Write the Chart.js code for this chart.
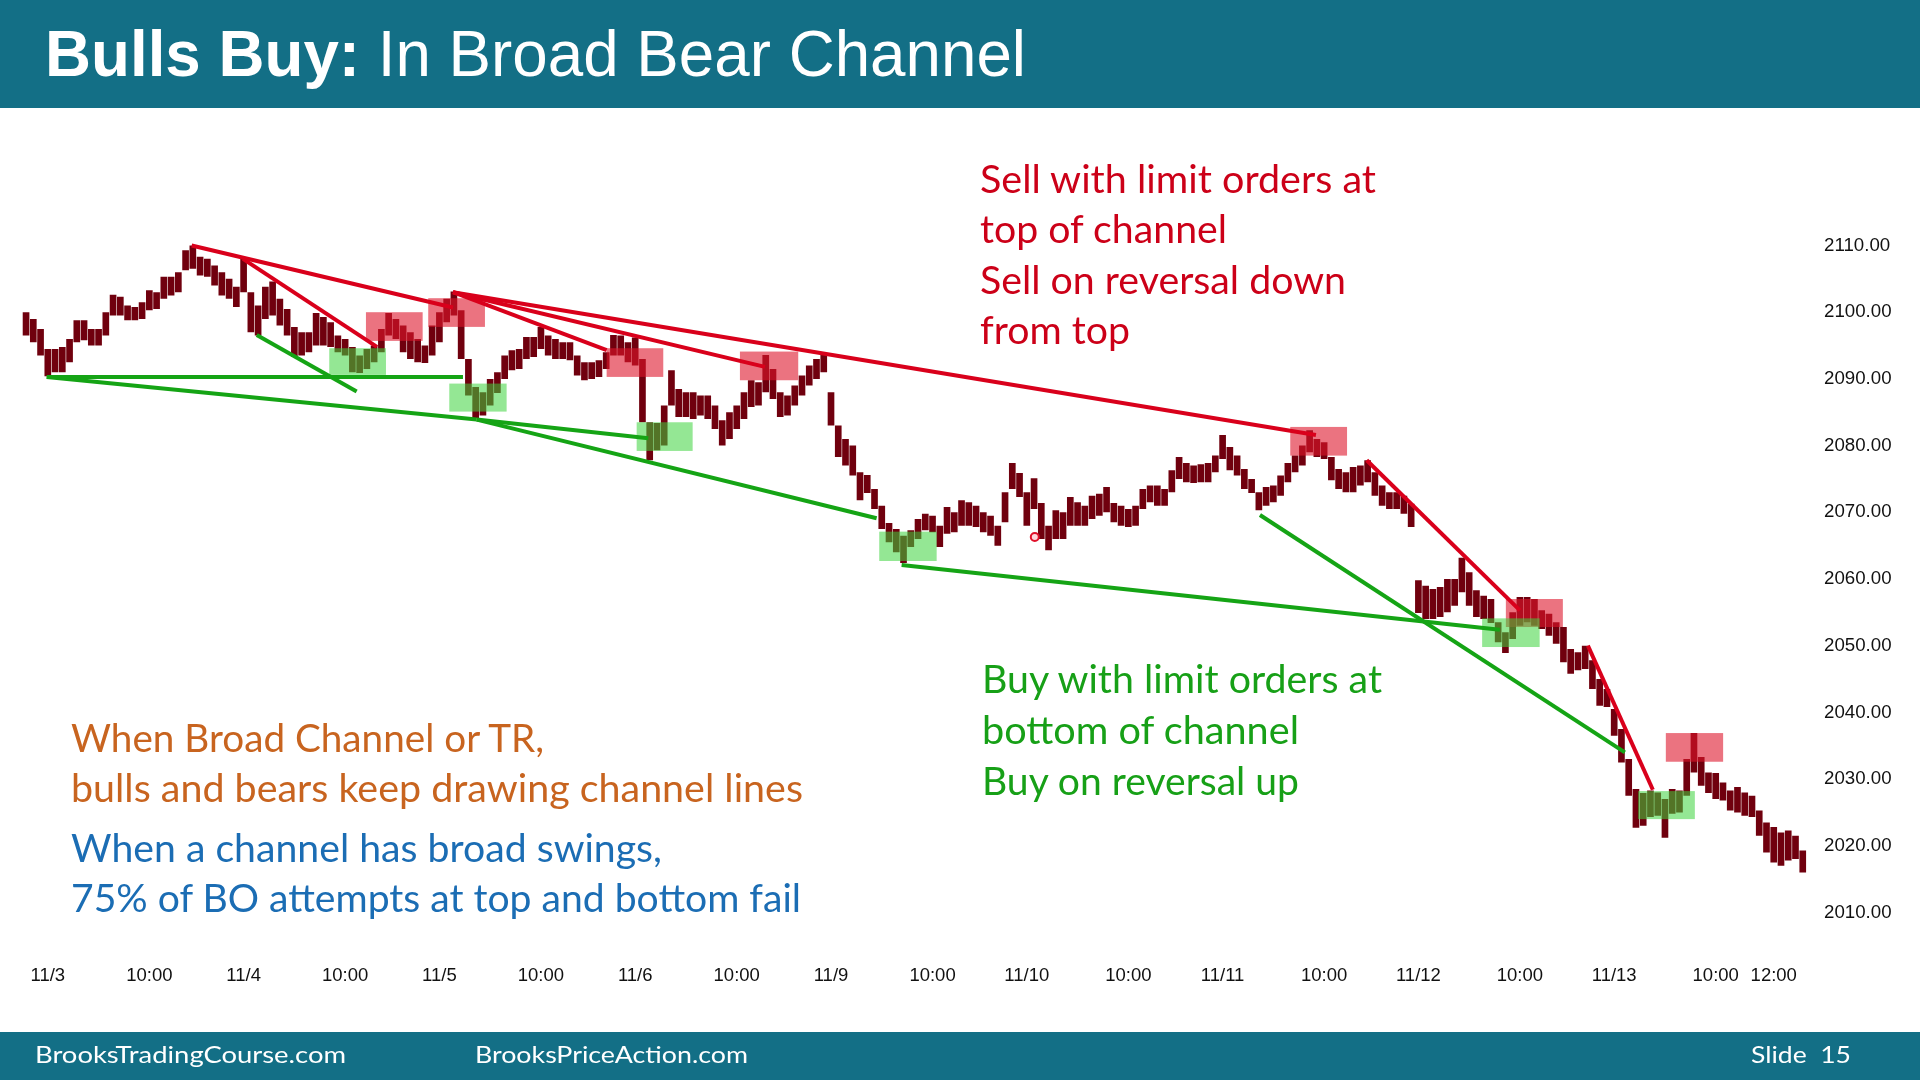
<!DOCTYPE html>
<html>
<head>
<meta charset="utf-8">
<script src="https://cdn.jsdelivr.net/npm/chart.js@4.4.1/dist/chart.umd.min.js"></script>
<style>
  html, body { margin: 0; padding: 0; width: 1920px; height: 1080px; overflow: hidden; background: #fff; }
  .band { position: absolute; left: 0; width: 1920px; background: #136f86; }
  #wrap { position: absolute; left: 0; top: 0; width: 1920px; height: 1080px; }
  .txt { position: absolute; white-space: nowrap; transform-origin: 0 0; line-height: normal; }
</style>
</head>
<body>
<div class="band" style="top:0;height:108px"></div>
<div class="band" style="top:1032px;height:48px"></div>
<div id="wrap"><canvas id="chart" width="1920" height="1080"></canvas></div>

<script>
// 15-minute bars, 27 per session (6:30-13:15), first three are the end of 11/2
const firstBar = -3;
const priceLow = [
  2096.5, 2095.5, 2093.5,
  2090.4, 2091, 2091, 2092.5, 2095.5, 2095.8, 2095, 2095, 2096.5, 2099.5, 2099.5, 2098.8, 2098.8, 2099, 2100.3, 2100.5, 2102, 2102.5, 2103, 2106.3, 2106.5, 2105.5, 2105.3, 2104, 2102.5, 2102, 2100.8,
  2103, 2097, 2096.5, 2099, 2099.5, 2098, 2096.5, 2093.3, 2093.5, 2094, 2095, 2095, 2094.8, 2094, 2093.5, 2091, 2090.9, 2091.5, 2092.5, 2094, 2096.5, 2096, 2094, 2093, 2092.5, 2092.4, 2093.5,
  2095.5, 2098.5, 2099.5, 2093, 2087.5, 2084.1, 2084.5, 2086, 2087.9, 2090, 2091.3, 2091.5, 2093, 2093.3, 2094.5, 2093.5, 2093, 2093, 2092.8, 2090.5, 2089.8, 2090, 2090.3, 2091.5, 2093.5, 2093.5, 2092.5,
  2092, 2083.5, 2077.8, 2079.3, 2080, 2086, 2084.3, 2084.3, 2084, 2084.5, 2084, 2082.5, 2080, 2081, 2082.5, 2084, 2085.8, 2086, 2088, 2087, 2084.3, 2084.5, 2086, 2087.5, 2089, 2090, 2091,
  2083, 2078.3, 2077, 2075.5, 2071.8, 2072.9, 2070.5, 2067.5, 2065.5, 2064, 2062.4, 2064.8, 2066, 2067.3, 2067, 2064.8, 2066.8, 2067, 2068, 2068, 2067.8, 2067, 2066.5, 2065, 2068.5, 2073.5, 2072.3,
  2068, 2070.5, 2066, 2064.3, 2066, 2066, 2068, 2068, 2068, 2069, 2069.5, 2070, 2068.5, 2068, 2067.8, 2068, 2070.5, 2071.5, 2071, 2071, 2073, 2075, 2074.5, 2074.4, 2074.5, 2074.5, 2076,
  2078, 2076.3, 2075.5, 2073.5, 2072.9, 2070.3, 2071, 2071.5, 2072.5, 2074.5, 2076, 2077, 2079, 2078.3, 2078, 2074.8, 2073.5, 2073, 2073, 2074, 2074.5, 2072.5, 2071, 2070.5, 2070.5, 2069.8, 2067.8,
  2054.9, 2054, 2054, 2054.3, 2055, 2056, 2058, 2056, 2054.3, 2054, 2053.4, 2050.5, 2048.9, 2051, 2053, 2053.5, 2053, 2052.5, 2051.5, 2050.3, 2047.5, 2045.8, 2046.3, 2046.5, 2043.5, 2041, 2040.8,
  2036.5, 2032.5, 2027.5, 2022.7, 2023, 2024.3, 2024.5, 2021.2, 2024.8, 2025, 2027.5, 2031, 2029, 2027.9, 2027, 2026.8, 2025.3, 2025, 2024.5, 2024.3, 2021.5, 2019, 2017.5, 2017, 2017.8, 2018, 2016
];
const priceHigh = [
  2100, 2099, 2097.5,
  2094.5, 2094.5, 2094.8, 2096, 2098.8, 2098.8, 2097.5, 2097.5, 2100, 2102.6, 2102.3, 2101, 2100.8, 2101.5, 2103.3, 2103, 2105.3, 2105.3, 2106, 2109.3, 2110, 2108.3, 2108, 2107, 2106, 2105, 2103.8,
  2108.2, 2103, 2101, 2103.8, 2104.6, 2102, 2100.5, 2097.8, 2097, 2097, 2099.9, 2099.3, 2098.5, 2096.5, 2096, 2094.8, 2093.5, 2094.5, 2095, 2097.5, 2099.9, 2099, 2098, 2097, 2096, 2095, 2098,
  2100, 2102, 2103.1, 2100.3, 2093, 2088.8, 2088, 2090, 2091, 2093.5, 2094.3, 2094.5, 2096.3, 2096.3, 2097.8, 2096.5, 2096, 2095.5, 2095.5, 2093.5, 2092.5, 2092.5, 2092.8, 2094, 2096.6, 2096.5, 2095.5,
  2096.2, 2093, 2083.5, 2083.4, 2086, 2091.3, 2088.5, 2088, 2088, 2087.5, 2087.5, 2086, 2083.8, 2085, 2086, 2088, 2089.8, 2089.5, 2093.6, 2091.5, 2088, 2087.5, 2089, 2090.5, 2092, 2093, 2093.6,
  2088, 2083, 2081, 2080, 2076, 2075.6, 2073.5, 2071, 2068.4, 2067.5, 2066.5, 2067.3, 2069, 2069.8, 2069.5, 2068, 2070.8, 2070, 2071.8, 2071.5, 2071, 2070, 2069.5, 2068, 2073, 2077.4, 2075.9,
  2073, 2075.1, 2071.4, 2068, 2070.3, 2070, 2072.3, 2071.5, 2071, 2072.5, 2072.8, 2073.8, 2071.4, 2071, 2070.5, 2071, 2073.5, 2074, 2074, 2073.5, 2076.3, 2078.3, 2077.4, 2077, 2077.2, 2077.4, 2078.5,
  2081.6, 2079.8, 2078.5, 2076.5, 2075, 2073, 2073.8, 2074, 2075.5, 2077.4, 2078.5, 2080, 2082.3, 2081, 2080.5, 2078.3, 2076.5, 2076, 2076.8, 2077, 2077.8, 2076, 2074, 2073, 2073, 2072.5, 2071.3,
  2059.8, 2059, 2058.5, 2058.8, 2060, 2060, 2063.2, 2061, 2058.3, 2057.5, 2057, 2053.5, 2052, 2055, 2057.3, 2057.3, 2057, 2055.3, 2054.8, 2053.5, 2052.8, 2049.5, 2049, 2050, 2047.8, 2045, 2043.5,
  2040.5, 2037.5, 2033, 2028.5, 2027.9, 2028.3, 2028, 2027, 2028.5, 2028.3, 2033, 2036.9, 2033.3, 2031, 2030.9, 2029.5, 2028.3, 2028.8, 2028, 2027.5, 2025.3, 2023.5, 2022.8, 2022, 2022.3, 2021.5, 2019.3
];

// axis ticks (x in bar units from 11/3 open)
const tickPos  = [0, 14, 27, 41, 54, 68, 81, 95, 108, 122, 135, 149, 162, 176, 189, 203, 216, 230, 238];
const tickText = ['11/3', '10:00', '11/4', '10:00', '11/5', '10:00', '11/6', '10:00', '11/9', '10:00',
                  '11/10', '10:00', '11/11', '10:00', '11/12', '10:00', '11/13', '10:00', '12:00'];
const yTicks = [2010, 2020, 2030, 2040, 2050, 2060, 2070, 2080, 2090, 2100, 2110];

// channel lines: [x1, price1, x2, price2]
const redLines = [
  [19.84, 2110, 55.87, 2100.7],
  [26.91, 2108, 45.39, 2094.8],
  [55.87, 2103, 77.07, 2094.3],
  [55.87, 2103, 98.89, 2091.8],
  [55.87, 2103, 174.87, 2081.6],
  [181.87, 2077.8, 203, 2055.3],
  [212.37, 2050, 221.33, 2028.4]
];
const greenLines = [
  [-0.15, 2090.3, 57.25, 2090.3],
  [-0.15, 2090.3, 59.14, 2083.9],
  [28.81, 2096.6, 42.59, 2088.1],
  [59.14, 2083.9, 82.8, 2081.1],
  [59.14, 2083.9, 114.29, 2069.1],
  [117.74, 2062.1, 200.23, 2052.4],
  [167.15, 2069.6, 217.47, 2034]
];

// entry zones: [x1, x2, priceLow, priceHigh]
const redBoxes = [
  [43.87, 51.69, 2095.7, 2100.0],
  [52.46, 60.28, 2097.8, 2102.1],
  [77.06, 84.87, 2090.3, 2094.6],
  [95.44, 103.48, 2089.8, 2094.1],
  [171.33, 179.16, 2078.5, 2082.8],
  [201.06, 208.92, 2052.8, 2057.0],
  [223.12, 231.02, 2032.6, 2036.9]
];
const greenBoxes = [
  [38.81, 46.63, 2090.6, 2094.6],
  [55.36, 63.27, 2085.1, 2089.3],
  [81.2, 88.92, 2079.2, 2083.5],
  [114.65, 122.57, 2062.7, 2067.1],
  [197.79, 205.72, 2049.8, 2054.1],
  [219.3, 227.12, 2024.0, 2028.2]
];
const cursorMark = [{ x: 136.1, y: 2066.3 }];

// ---- texts ----
const texts = [
  { html: '<b>Bulls Buy:</b> In Broad Bear Channel', family: '"Liberation Sans", Arial', size: 64, color: '#fff', x: 45, y: 76, w: 981 },
  { html: 'Sell with limit orders at', family: 'Lato', size: 38, color: '#cc0018', x: 980, y: 192.7, w: 396 },
  { html: 'top of channel', family: 'Lato', size: 38, color: '#cc0018', x: 980, y: 243, w: 247 },
  { html: 'Sell on reversal down', family: 'Lato', size: 38, color: '#cc0018', x: 980, y: 293.5, w: 366 },
  { html: 'from top', family: 'Lato', size: 38, color: '#cc0018', x: 980, y: 344, w: 150 },
  { html: 'Buy with limit orders at', family: 'Lato', size: 38, color: '#17a017', x: 981.7, y: 693.3, w: 400 },
  { html: 'bottom of channel', family: 'Lato', size: 38, color: '#17a017', x: 981.7, y: 744, w: 317 },
  { html: 'Buy on reversal up', family: 'Lato', size: 38, color: '#17a017', x: 981.7, y: 795, w: 317 },
  { html: 'When Broad Channel or TR,', family: 'Lato', size: 38, color: '#c8641f', x: 70.7, y: 752.3, w: 473 },
  { html: 'bulls and bears keep drawing channel lines', family: 'Lato', size: 38, color: '#c8641f', x: 70.7, y: 801.7, w: 732 },
  { html: 'When a channel has broad swings,', family: 'Lato', size: 38, color: '#1b6db4', x: 70.7, y: 862.3, w: 591 },
  { html: '75% of BO attempts at top and bottom fail', family: 'Lato', size: 38, color: '#1b6db4', x: 70.7, y: 912.3, w: 730 },
  { html: 'BrooksTradingCourse.com', family: 'Lato', size: 23, color: '#fff', x: 35, y: 1063, w: 311 },
  { html: 'BrooksPriceAction.com', family: 'Lato', size: 23, color: '#fff', x: 475, y: 1063, w: 273 },
  { html: 'Slide&nbsp;&nbsp;15', family: 'Lato', size: 23, color: '#fff', x: 1751, y: 1063, w: 100 }
];

function placeText(t) {
  const el = document.createElement('div');
  el.className = 'txt';
  el.style.fontFamily = t.family;
  el.style.fontSize = t.size + 'px';
  el.style.color = t.color;
  el.innerHTML = t.html + '<span style="display:inline-block;width:0;height:0;vertical-align:baseline"></span>';
  document.body.appendChild(el);
  const probe = el.lastElementChild;
  const base = probe.offsetTop;
  const w = el.getBoundingClientRect().width;
  el.style.left = t.x + 'px';
  el.style.top = (t.y - base) + 'px';
  el.style.transform = 'scaleX(' + (t.w / w).toFixed(4) + ')';
}
texts.forEach(placeText);

// ---- chart ----
const bars = priceLow.map((lo, i) => ({ x: firstBar + i, y: [lo, priceHigh[i]] }));

function lineSet(seg, color) {
  return {
    type: 'line',
    data: [{ x: seg[0], y: seg[1] }, { x: seg[2], y: seg[3] }],
    borderColor: color,
    borderWidth: 4,
    pointRadius: 0,
    fill: false,
    order: 0
  };
}

const zonePlugin = {
  id: 'zones',
  afterDatasetDraw(chart, args) {
    if (args.index !== 0) return;
    const { ctx, chartArea, scales: { x, y } } = chart;
    ctx.save();
    ctx.beginPath();
    ctx.rect(chartArea.left, chartArea.top, chartArea.right - chartArea.left, chartArea.bottom - chartArea.top);
    ctx.clip();
    const draw = (list, fill) => {
      ctx.fillStyle = fill;
      list.forEach(b => {
        const x1 = x.getPixelForValue(b[0]), x2 = x.getPixelForValue(b[1]);
        const y1 = y.getPixelForValue(b[3]), y2 = y.getPixelForValue(b[2]);
        ctx.fillRect(x1, y1, x2 - x1, y2 - y1);
      });
    };
    draw(redBoxes, 'rgba(222,22,44,0.6)');
    draw(greenBoxes, 'rgba(60,212,60,0.55)');
    ctx.restore();
  }
};

const datasets = [{
  type: 'bar',
  data: bars,
  backgroundColor: '#70000e',
  borderWidth: 0,
  barPercentage: 0.92,
  categoryPercentage: 1,
  order: 1
}];
redLines.forEach(s => datasets.push(lineSet(s, '#d9001b')));
greenLines.forEach(s => datasets.push(lineSet(s, '#15a415')));
datasets.push({
  type: 'scatter',
  data: cursorMark,
  pointRadius: 4,
  borderWidth: 2,
  borderColor: '#e0102a',
  backgroundColor: 'rgba(255,210,215,0.9)',
  order: 0
});

new Chart(document.getElementById('chart'), {
  type: 'bar',
  data: { datasets },
  plugins: [zonePlugin],
  options: {
    responsive: false,
    animation: false,
    layout: { padding: { left: 18.8, right: 0, top: 138.8, bottom: 67.5 } },
    plugins: { legend: { display: false }, tooltip: { enabled: false } },
    scales: {
      x: {
        type: 'linear',
        offset: false,
        min: -4,
        max: 243,
        grid: { display: false, drawTicks: false, offset: false },
        border: { display: false },
        afterFit: s => { s.height = 60; },
        afterBuildTicks: s => { s.ticks = tickPos.map(v => ({ value: v })); },
        ticks: {
          autoSkip: false,
          maxRotation: 0,
          padding: 12.5,
          color: '#111',
          font: { family: '"Liberation Sans", Arial', size: 18.5 },
          callback: (v, i) => tickText[i]
        }
      },
      y: {
        type: 'linear',
        position: 'right',
        min: 2004,
        max: 2126,
        grid: { display: false, drawTicks: false },
        border: { display: false },
        afterFit: s => { s.width = 110; },
        afterBuildTicks: s => { s.ticks = yTicks.map(v => ({ value: v })); },
        ticks: {
          padding: 14,
          color: '#111',
          font: { family: '"Liberation Sans", Arial', size: 18.7 },
          callback: v => v.toFixed(2)
        }
      }
    }
  }
});
</script>
</body>
</html>
